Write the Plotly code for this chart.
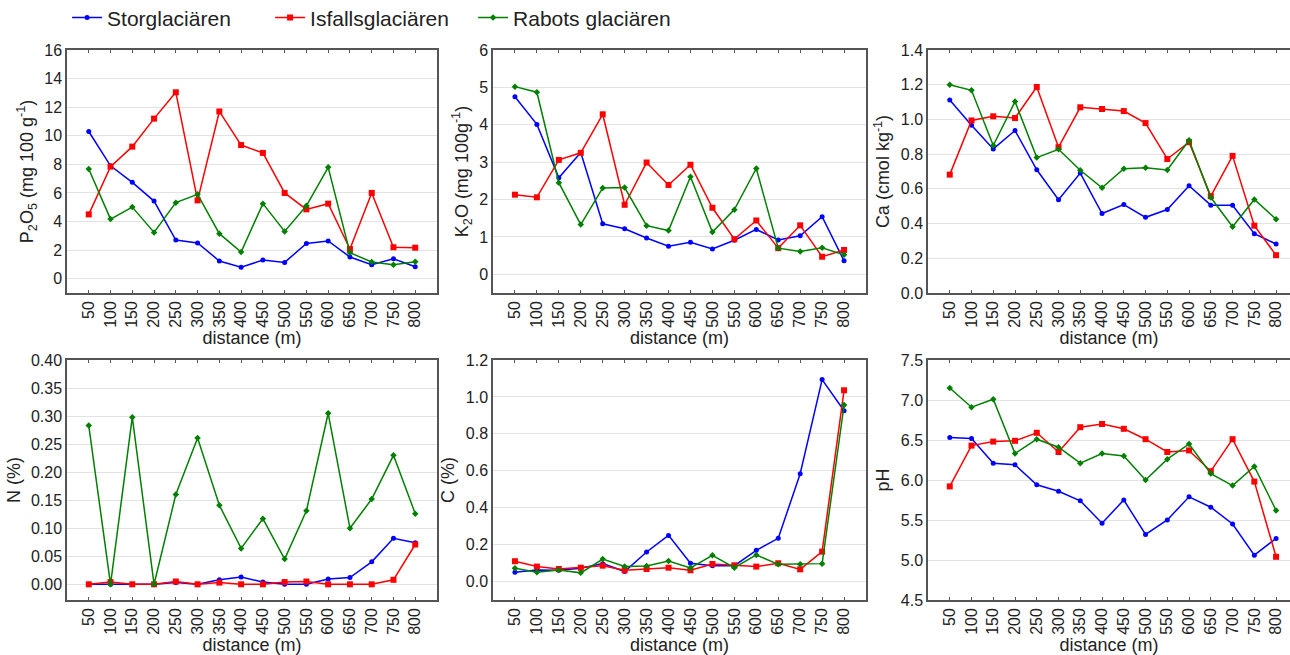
import plotly.graph_objects as go

distance = [50, 100, 150, 200, 250, 300, 350, 400, 450, 500, 550, 600, 650, 700, 750, 800]
series_names = ["Storglaciären", "Isfallsglaciären", "Rabots glaciären"]

p2o5_stor = [10.3, 7.9, 6.74, 5.43, 2.7, 2.5, 1.24, 0.8, 1.3, 1.14, 2.47, 2.64, 1.52, 0.98, 1.4, 0.84]
p2o5_isf = [4.5, 7.84, 9.24, 11.2, 13.04, 5.48, 11.7, 9.35, 8.8, 6.0, 4.85, 5.25, 2.08, 6.0, 2.2, 2.17]
p2o5_rab = [7.67, 4.17, 5.01, 3.24, 5.32, 5.9, 3.15, 1.87, 5.25, 3.31, 5.1, 7.79, 1.82, 1.17, 0.98, 1.19]

k2o_stor = [4.75, 4.01, 2.58, 3.26, 1.35, 1.22, 0.97, 0.75, 0.86, 0.68, 0.91, 1.2, 0.92, 1.03, 1.54, 0.36]
k2o_isf = [2.13, 2.06, 3.06, 3.25, 4.28, 1.86, 2.99, 2.39, 2.93, 1.78, 0.94, 1.44, 0.70, 1.31, 0.47, 0.65]
k2o_rab = [5.02, 4.87, 2.45, 1.33, 2.31, 2.32, 1.3, 1.17, 2.61, 1.13, 1.73, 2.83, 0.70, 0.61, 0.71, 0.52]

ca_stor = [1.112, 0.967, 0.83, 0.936, 0.71, 0.537, 0.691, 0.458, 0.51, 0.436, 0.481, 0.618, 0.506, 0.506, 0.342, 0.282]
ca_isf = [0.682, 0.994, 1.018, 1.008, 1.187, 0.84, 1.07, 1.06, 1.048, 0.979, 0.772, 0.869, 0.558, 0.79, 0.388, 0.218]
ca_rab = [1.2, 1.168, 0.85, 1.103, 0.78, 0.828, 0.707, 0.606, 0.716, 0.722, 0.709, 0.88, 0.55, 0.382, 0.539, 0.425]

n_stor = [0.0, 0.0, 0.0, 0.0, 0.003, 0.0, 0.008, 0.013, 0.004, 0.0, 0.0, 0.0095, 0.012, 0.04, 0.082, 0.074]
n_isf = [0.0, 0.004, 0.0, 0.0, 0.005, 0.0, 0.003, 0.0, 0.0, 0.004, 0.005, 0.0, 0.0, 0.0, 0.008, 0.071]
n_rab = [0.283, 0.0, 0.298, 0.0, 0.16, 0.261, 0.141, 0.064, 0.117, 0.045, 0.131, 0.305, 0.1, 0.152, 0.23, 0.126]

c_stor = [0.05, 0.063, 0.061, 0.072, 0.097, 0.054, 0.16, 0.25, 0.099, 0.086, 0.086, 0.169, 0.234, 0.584, 1.094, 0.925]
c_isf = [0.11, 0.081, 0.068, 0.075, 0.086, 0.061, 0.068, 0.075, 0.061, 0.095, 0.088, 0.081, 0.099, 0.066, 0.162, 1.036]
c_rab = [0.072, 0.05, 0.063, 0.047, 0.122, 0.081, 0.084, 0.111, 0.074, 0.142, 0.075, 0.144, 0.093, 0.093, 0.097, 0.956]

ph_stor = [6.53, 6.52, 6.21, 6.19, 5.94, 5.86, 5.74, 5.46, 5.75, 5.32, 5.5, 5.79, 5.66, 5.45, 5.06, 5.27]
ph_isf = [5.92, 6.43, 6.48, 6.49, 6.59, 6.35, 6.66, 6.70, 6.64, 6.51, 6.35, 6.37, 6.11, 6.51, 5.98, 5.04]
ph_rab = [7.15, 6.91, 7.01, 6.33, 6.51, 6.41, 6.21, 6.33, 6.30, 6.0, 6.26, 6.45, 6.08, 5.93, 6.17, 5.62]

panels = [
    ("P<sub>2</sub>O<sub>5</sub> (mg 100 g<sup>-1</sup>)", [p2o5_stor, p2o5_isf, p2o5_rab], [-1, 16], 2, "d"),
    ("K<sub>2</sub>O (mg 100g<sup>-1</sup>)", [k2o_stor, k2o_isf, k2o_rab], [-0.5, 6], 1, "d"),
    ("Ca (cmol kg<sup>-1</sup>)", [ca_stor, ca_isf, ca_rab], [0, 1.4], 0.2, ".1f"),
    ("N (%)", [n_stor, n_isf, n_rab], [-0.028, 0.40], 0.05, ".2f"),
    ("C (%)", [c_stor, c_isf, c_rab], [-0.1, 1.2], 0.2, ".1f"),
    ("pH", [ph_stor, ph_isf, ph_rab], [4.5, 7.5], 0.5, ".1f"),
]

colors = ["#0000ff", "#ff0000", "#008000"]
symbols = ["circle", "square", "diamond"]
msizes = [5, 6, 5]

W, H = 1290, 655
xdoms_px = [(67, 437), (493, 866), (928, 1290)]
ydoms_px = [(50, 293), (360, 600)]
xranges = [[0, 850], [0, 850], [0, 832]]

fig = go.Figure()
layout = {}
font_family = "Liberation Sans, Arial, sans-serif"

for i, (title, data, yr, dt, fmt) in enumerate(panels):
    r, c = divmod(i, 3)
    idx = i + 1
    xa = "x" if idx == 1 else f"x{idx}"
    ya = "y" if idx == 1 else f"y{idx}"
    for k in range(3):
        fig.add_trace(go.Scatter(
            x=distance, y=data[k], mode="lines+markers", name=series_names[k],
            line=dict(color=colors[k], width=1.5),
            marker=dict(color=colors[k], symbol=symbols[k], size=msizes[k]),
            xaxis=xa, yaxis=ya, showlegend=(i == 0),
        ))
    x0, x1 = xdoms_px[c]
    y0, y1 = ydoms_px[r]
    layout[f"xaxis{idx}" if idx > 1 else "xaxis"] = dict(
        domain=[x0 / W, min(x1 / W, 1.0)], anchor=ya, automargin=False,
        range=xranges[c], tickvals=distance, ticktext=[str(d) for d in distance],
        tickangle=-90, ticks="inside", ticklen=3, tickcolor="#555",
        showline=True, linecolor="#555", linewidth=1.5, mirror="ticks",
        showgrid=False, zeroline=False,
        tickfont=dict(size=16, color="#222", family=font_family),
        title=dict(text="distance (m)", font=dict(size=18, color="#222", family=font_family), standoff=4),
    )
    layout[f"yaxis{idx}" if idx > 1 else "yaxis"] = dict(
        domain=[1 - y1 / H, 1 - y0 / H], anchor=xa, automargin=False,
        range=yr, dtick=dt, tick0=0, tickformat=fmt,
        showline=True, linecolor="#555", linewidth=1.5, mirror=True,
        ticks="", showgrid=True, gridcolor="#e3e3e3", gridwidth=1, zeroline=False,
        tickfont=dict(size=16, color="#222", family=font_family),
        title=dict(text=title, font=dict(size=18, color="#222", family=font_family), standoff=6),
    )

fig.update_layout(
    width=W, height=H,
    margin=dict(l=0, r=0, t=0, b=0, autoexpand=False),
    paper_bgcolor="white", plot_bgcolor="white",
    font=dict(family=font_family, color="#222"),
    legend=dict(orientation="h", x=0.052, y=1.004, xanchor="left", yanchor="top",
                font=dict(size=21, color="#222", family=font_family),
                itemwidth=30, entrywidth=158, entrywidthmode="pixels",
                bgcolor="rgba(0,0,0,0)"),
    **layout,
)

fig.write_html("out.html")
